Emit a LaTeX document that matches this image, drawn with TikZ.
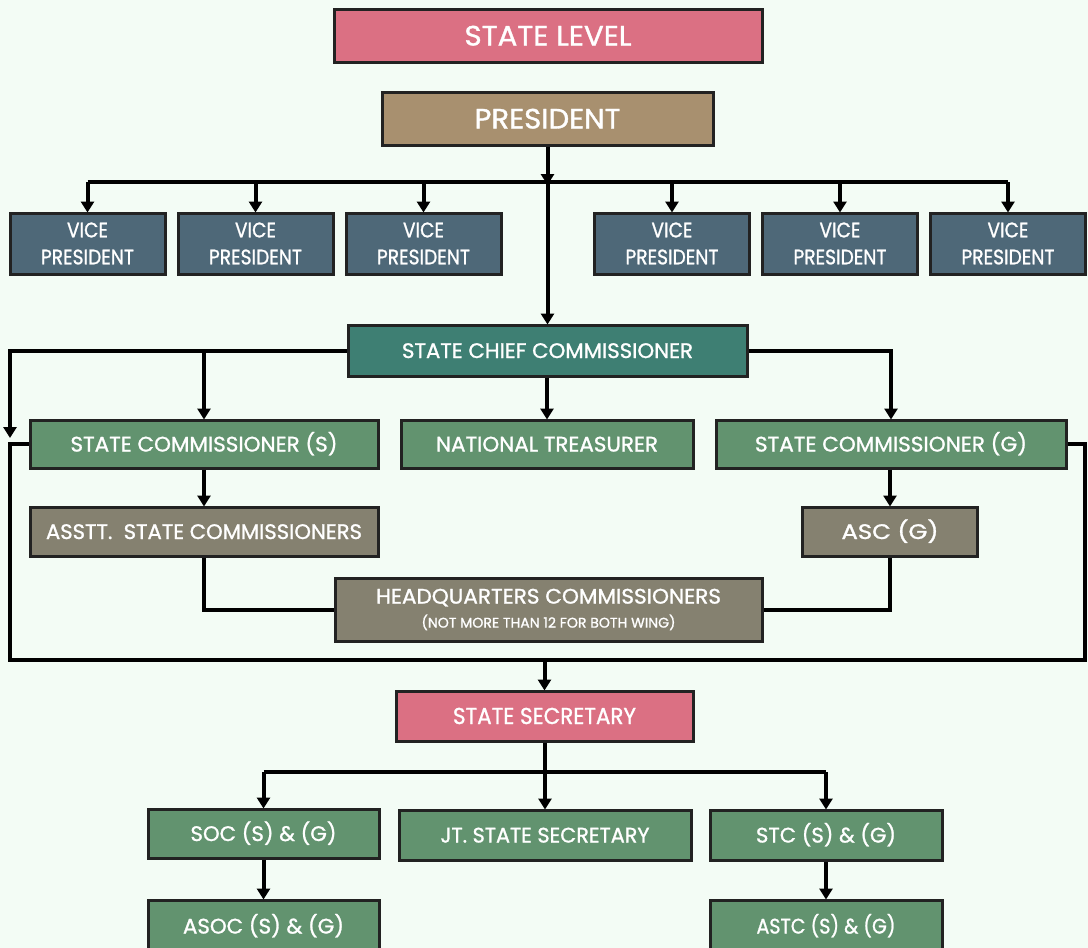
\documentclass[tikz,border=0pt]{standalone}
\usepackage{fontspec}
\usepackage{graphicx}
\setmainfont{Poppins}[FakeBold=1.2]
\usetikzlibrary{arrows.meta}
\definecolor{bgc}{HTML}{F3FCF5}
\definecolor{pinkc}{HTML}{DB7083}
\definecolor{tanc}{HTML}{A8906F}
\definecolor{slatec}{HTML}{4E6878}
\definecolor{tealc}{HTML}{3E7F73}
\definecolor{greenc}{HTML}{62936F}
\definecolor{greyc}{HTML}{858170}
\definecolor{edgec}{HTML}{222222}
\newcommand\fx[2]{\resizebox{#1pt}{\height}{#2}}
\tikzset{
  box/.style={draw=edgec, line width=3pt, rectangle, inner sep=0pt, text=white, align=center},
  big/.style={font=\fontsize{28}{30}\selectfont, text height=20pt, text depth=0pt},
  mid/.style={font=\fontsize{21}{27}\selectfont, text height=15pt, text depth=0pt},
  conn/.style={draw=black, line width=4pt},
  arr/.style={conn, -{Triangle[length=11pt,width=13pt]}, shorten >=-1pt},
}
\begin{document}
\begin{tikzpicture}[x=1pt,y=-1pt]
\fill[bgc] (0,0) rectangle (1088,948);
\useasboundingbox (0,0) rectangle (1088,948);
\begin{scope}
\clip (0,0) rectangle (1088,948);
% top
\node[box, big, fill=pinkc, minimum width=428, minimum height=53] (sl) at (548,35.5) {\fx{167}{STATE LEVEL}};
\node[box, big, fill=tanc, minimum width=331, minimum height=53] (pres) at (547.5,118.5) {\fx{146}{PRESIDENT}};
% vice presidents
\foreach \n/\x in {vp1/87.5, vp2/255.5, vp3/423.5, vp4/672, vp5/840, vp6/1008}{
  \node[box, fill=slatec, minimum width=155, minimum height=61, font=\fontsize{21}{27}\selectfont] (\n) at (\x,243.5) {\fx{41}{VICE}\\\fx{93}{PRESIDENT}};
}
\coordinate (j1) at (547.5,182);
\node[box, mid, fill=tealc, minimum width=399, minimum height=51] (scc) at (547.5,350.5) {\fx{291}{STATE CHIEF COMMISSIONER}};
\node[box, mid, fill=greenc, minimum width=348, minimum height=48] (scs) at (204,444) {\fx{267}{STATE COMMISSIONER (S)}};
\node[box, mid, fill=greenc, minimum width=292, minimum height=48] (nt) at (547,444) {\fx{222}{NATIONAL TREASURER}};
\node[box, mid, fill=greenc, minimum width=350, minimum height=48] (scg) at (891,444) {\fx{272}{STATE COMMISSIONER (G)}};
\node[box, mid, fill=greyc, minimum width=348, minimum height=49] (ascs) at (204,531.5) {\fx{316}{ASSTT.\ \ STATE COMMISSIONERS}};
\node[box, mid, fill=greyc, minimum width=175, minimum height=49] (ascg) at (890,531.5) {\fx{97}{ASC (G)}};
\node[box, fill=greyc, minimum width=427, minimum height=63, font=\fontsize{21}{24}\selectfont] (hq) at (548.5,609.5) {\fx{345}{HEADQUARTERS COMMISSIONERS}\\{\fontsize{14}{24}\selectfont\fx{254}{(NOT MORE THAN 12 FOR BOTH WING)}}};
\coordinate (lft) at (10,437);
\coordinate (bl) at (10,660);
\coordinate (br) at (1085,660);
% secretary
\node[box, mid, fill=pinkc, minimum width=297, minimum height=50, font=\fontsize{23}{27}\selectfont, text height=16pt] (ss) at (544.5,716) {\fx{183}{STATE SECRETARY}};
\coordinate (j2) at (544.5,772);
\node[box, mid, fill=greenc, minimum width=231, minimum height=49] (soc) at (263.5,833.5) {\fx{146}{SOC (S) \& (G)}};
\node[box, mid, fill=greenc, minimum width=292, minimum height=50] (jt) at (545,835) {\fx{209}{JT. STATE SECRETARY}};
\node[box, mid, fill=greenc, minimum width=232, minimum height=50] (stc) at (826,835) {\fx{140}{STC (S) \& (G)}};
\node[box, mid, fill=greenc, minimum width=231, minimum height=52] (asoc) at (263.5,926) {\fx{161}{ASOC (S) \& (G)}};
\node[box, mid, fill=greenc, minimum width=232, minimum height=52] (astc) at (826,926) {\fx{139}{ASTC (S) \& (G)}};
% connectors top
\draw[arr] (pres.south) -- ([yshift=-2pt]j1);
\draw[conn] (vp1.north |- j1) -- (vp6.north |- j1);
\foreach \n in {vp1,vp2,vp3,vp4,vp5,vp6}{
  \draw[arr] (\n.north |- j1) -- (\n.north);
}
\draw[arr] (j1) -- (scc.north);
% commissioner level
\draw[arr] (scc.west) -| (lft);
\draw[arr] (scs.north |- scc.west) -- (scs.north);
\draw[arr] (nt.north |- scc.south) -- (nt.north);
\draw[arr] (scc.east) -| (scg.north);
\draw[arr] (scs.south) -- (ascs.north);
\draw[arr] (ascg.north |- scg.south) -- (ascg.north);
\draw[conn] (ascs.south) |- (hq.west);
\draw[conn] (ascg.south) |- (hq.east);
\draw[conn] (scs.west) -| (bl) -- (br) |- (scg.east);
\draw[arr] (ss.north |- bl) -- (ss.north);
% secretary level
\draw[conn] (ss.south) -- (j2);
\draw[conn] (soc.north |- j2) -- (stc.north |- j2);
\draw[arr] (soc.north |- j2) -- (soc.north);
\draw[arr] (jt.north |- j2) -- (jt.north);
\draw[arr] (stc.north |- j2) -- (stc.north);
\draw[arr] (soc.south) -- (asoc.north);
\draw[arr] (stc.south) -- (astc.north);
\end{scope}
\end{tikzpicture}
\end{document}
